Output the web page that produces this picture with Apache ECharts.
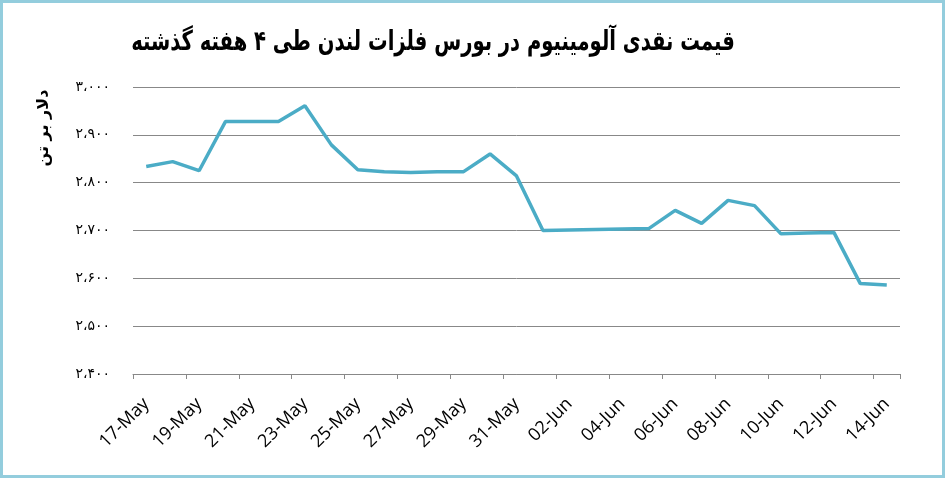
<!DOCTYPE html>
<html>
<head>
<meta charset="utf-8">
<script src="https://cdn.jsdelivr.net/npm/echarts@6/dist/echarts.min.js"></script>
<style>
html,body{margin:0;padding:0;background:#fff;}
#chart{width:945px;height:478px;}
</style>
</head>
<body>
<div id="chart"></div>
<script>
const titleText = 'قیمت نقدی آلومینیوم در بورس فلزات لندن طی ۴ هفته گذشته';
const yAxisName = 'دلار بر تن';
const categories = [
  '17-May','18-May','19-May','20-May','21-May','22-May','23-May','24-May','25-May','26-May',
  '27-May','28-May','29-May','30-May','31-May','01-Jun','02-Jun','03-Jun','04-Jun','05-Jun',
  '06-Jun','07-Jun','08-Jun','09-Jun','10-Jun','11-Jun','12-Jun','13-Jun','14-Jun'
];
const prices = [
  2834, 2844, 2825, 2928, 2928, 2928, 2961, 2879, 2827, 2823,
  2821, 2823, 2823, 2860, 2814, 2700, 2701, 2702, 2703, 2704,
  2742, 2715, 2763, 2752, 2693, 2695, 2696, 2589, 2586
];
const yTicks = [2400, 2500, 2600, 2700, 2800, 2900, 3000];

const faDigits = '۰۱۲۳۴۵۶۷۸۹';
function toFa(v){
  const s = String(v);
  const withSep = s.length > 3 ? s.slice(0, s.length - 3) + '،' + s.slice(s.length - 3) : s;
  return withSep.replace(/[0-9]/g, d => faDigits[+d]);
}

const chart = echarts.init(document.getElementById('chart'));
chart.setOption({
  backgroundColor: '#ffffff',
  animation: false,
  graphic: [
    {
      type: 'rect',
      shape: { x: 1.5, y: 1.5, width: 942, height: 475 },
      style: { fill: 'none', stroke: '#93cddd', lineWidth: 3 },
      silent: true
    },
    {
      type: 'text',
      x: 433, y: 43,
      scaleX: 0.87,
      scaleY: 1.1,
      style: {
        text: titleText,
        fontFamily: 'DejaVu Sans Condensed, DejaVu Sans',
        fontWeight: 'bold',
        fontSize: 25,
        fill: '#000',
        align: 'center',
        verticalAlign: 'middle'
      }
    },
    {
      type: 'text',
      x: 44, y: 128,
      rotation: Math.PI / 2,
      style: {
        text: yAxisName,
        fontFamily: 'DejaVu Sans',
        fontWeight: 'bold',
        fontSize: 16,
        fill: '#000',
        align: 'center',
        verticalAlign: 'middle'
      }
    }
  ],
  grid: { left: 133, right: 45, top: 87, bottom: 104 },
  xAxis: {
    type: 'category',
    data: categories,
    boundaryGap: true,
    axisLine: { lineStyle: { color: '#888', width: 1 } },
    axisTick: { show: true, interval: 1, length: 5, lineStyle: { color: '#888' } },
    axisLabel: {
      interval: 1,
      rotate: 45,
      fontFamily: 'Open Sans, Liberation Sans',
      fontSize: 18,
      color: '#000',
      margin: 27
    }
  },
  yAxis: {
    type: 'value',
    min: yTicks[0],
    max: yTicks[yTicks.length - 1],
    interval: 100,
    axisLine: { show: false },
    axisTick: { show: false },
    splitLine: { lineStyle: { color: '#888', width: 1 } },
    axisLabel: {
      margin: 23,
      fontFamily: 'DejaVu Sans',
      fontSize: 14,
      color: '#000',
      formatter: v => toFa(v)
    }
  },
  series: [{
    type: 'line',
    data: prices,
    symbol: 'none',
    lineStyle: { color: '#4bacc6', width: 3.5 },
    itemStyle: { color: '#4bacc6' }
  }]
});
</script>
</body>
</html>
